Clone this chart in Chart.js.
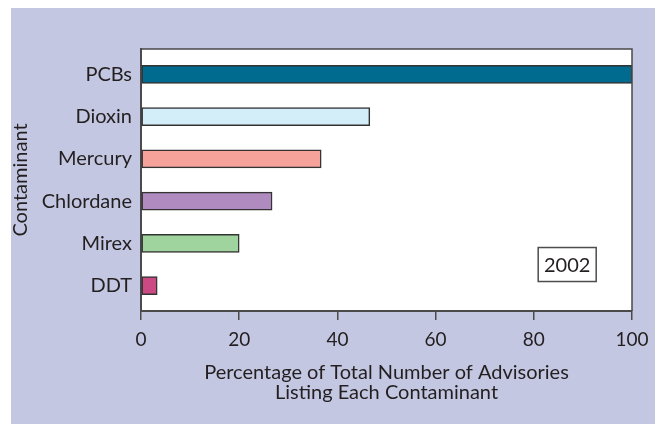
<!DOCTYPE html>
<html>
<head>
<meta charset="utf-8">
<script src="https://cdn.jsdelivr.net/npm/chart.js@4.4.1/dist/chart.umd.min.js"></script>
<style>
  html, body { margin: 0; padding: 0; background: #ffffff; }
  #wrap { width: 657px; height: 424px; position: relative; }
</style>
</head>
<body>
<div id="wrap"><canvas id="barc01" width="657" height="424"></canvas></div>
<script>
// data
const contaminants = ['PCBs', 'Dioxin', 'Mercury', 'Chlordane', 'Mirex', 'DDT'];
const percentages = [100, 46.6, 36.7, 26.7, 20, 3.3];
const barColors = ['#006a8f', '#d4eef9', '#f4a29a', '#b08bc0', '#a0d49f', '#cc4a83'];
const xTicks = [0, 20, 40, 60, 80, 100];
const yearLabel = '2002';

const FONT = 'Lato, "Open Sans", sans-serif';
const INK = '#231f20';
const AXIS = '#4a4a4a';

// lavender panel + white plot + frame + year box
const panelPlugin = {
    id: 'panel',
    beforeDraw(chart) {
        const { ctx, chartArea } = chart;
        ctx.save();
        ctx.fillStyle = '#c3c7e1';
        ctx.fillRect(11, 8, 644, 416);
        ctx.fillStyle = '#ffffff';
        ctx.fillRect(chartArea.left, chartArea.top, chartArea.right - chartArea.left, chartArea.bottom - chartArea.top);
        ctx.restore();
    },
    afterDraw(chart) {
        const { ctx, chartArea, scales } = chart;
        ctx.save();
        ctx.strokeStyle = AXIS;
        ctx.lineWidth = 1.5;
        ctx.beginPath();
        ctx.moveTo(chartArea.left, chartArea.top);
        ctx.lineTo(chartArea.right, chartArea.top);
        ctx.lineTo(chartArea.right, chartArea.bottom);
        ctx.stroke();

        // year box
        const cx = scales.x.getPixelForValue(86.8);
        const cy = scales.y.getPixelForValue(4.5);
        const w = 58, h = 34;
        ctx.fillStyle = '#ffffff';
        ctx.fillRect(cx - w / 2, cy - h / 2, w, h);
        ctx.lineWidth = 1.5;
        ctx.strokeStyle = '#4d4d4d';
        ctx.strokeRect(cx - w / 2, cy - h / 2, w, h);
        ctx.fillStyle = INK;
        ctx.font = '20px ' + FONT;
        ctx.textAlign = 'center';
        ctx.textBaseline = 'middle';
        ctx.fillText(yearLabel, cx, cy + 1);
        ctx.restore();
    }
};

const ctx = document.getElementById('barc01');

new Chart(ctx, {
    type: 'bar',
    data: {
        datasets: [
            {
                data: percentages.map((v, i) => ({ x: v, y: i })),
                backgroundColor: barColors,
                borderColor: '#333333',
                borderWidth: 1.5,
                borderSkipped: false,
                barThickness: 18
            }
        ]
    },
    options: {
        indexAxis: 'y',
        responsive: false,
        animation: false,
        layout: { padding: { top: 49, right: 25, bottom: 0, left: 0 } },
        plugins: {
            legend: { display: false },
            tooltip: { enabled: false }
        },
        scales: {
            x: {
                type: 'linear',
                min: 0,
                max: 100,
                afterFit: (scale) => { scale.height = 113; },
                afterBuildTicks: (scale) => { scale.ticks = xTicks.map(v => ({ value: v })); },
                grid: {
                    drawOnChartArea: false,
                    drawTicks: true,
                    tickLength: 9,
                    color: AXIS,
                    lineWidth: 1.5
                },
                border: { display: true, color: AXIS, width: 2 },
                ticks: {
                    padding: 8,
                    color: INK,
                    font: { family: FONT, size: 19 },
                    maxRotation: 0
                },
                title: {
                    display: true,
                    text: ['Percentage of Total Number of Advisories', 'Listing Each Contaminant'],
                    color: INK,
                    font: { family: FONT, size: 20, lineHeight: 1 },
                    padding: { top: 0, bottom: 21 }
                }
            },
            y: {
                type: 'linear',
                reverse: true,
                offset: false,
                min: -0.6,
                max: 5.6,
                afterFit: (scale) => { scale.width = 141; },
                afterBuildTicks: (scale) => { scale.ticks = contaminants.map((c, i) => ({ value: i })); },
                grid: { drawOnChartArea: false, drawTicks: false },
                border: { display: true, color: AXIS, width: 2 },
                ticks: {
                    padding: 9,
                    color: INK,
                    font: { family: FONT, size: 20 },
                    callback: (value) => contaminants[value]
                },
                title: {
                    display: true,
                    text: 'Contaminant',
                    color: INK,
                    font: { family: FONT, size: 20 },
                    padding: { top: 9, bottom: 0 }
                }
            }
        }
    },
    plugins: [panelPlugin]
});
</script>
</body>
</html>
